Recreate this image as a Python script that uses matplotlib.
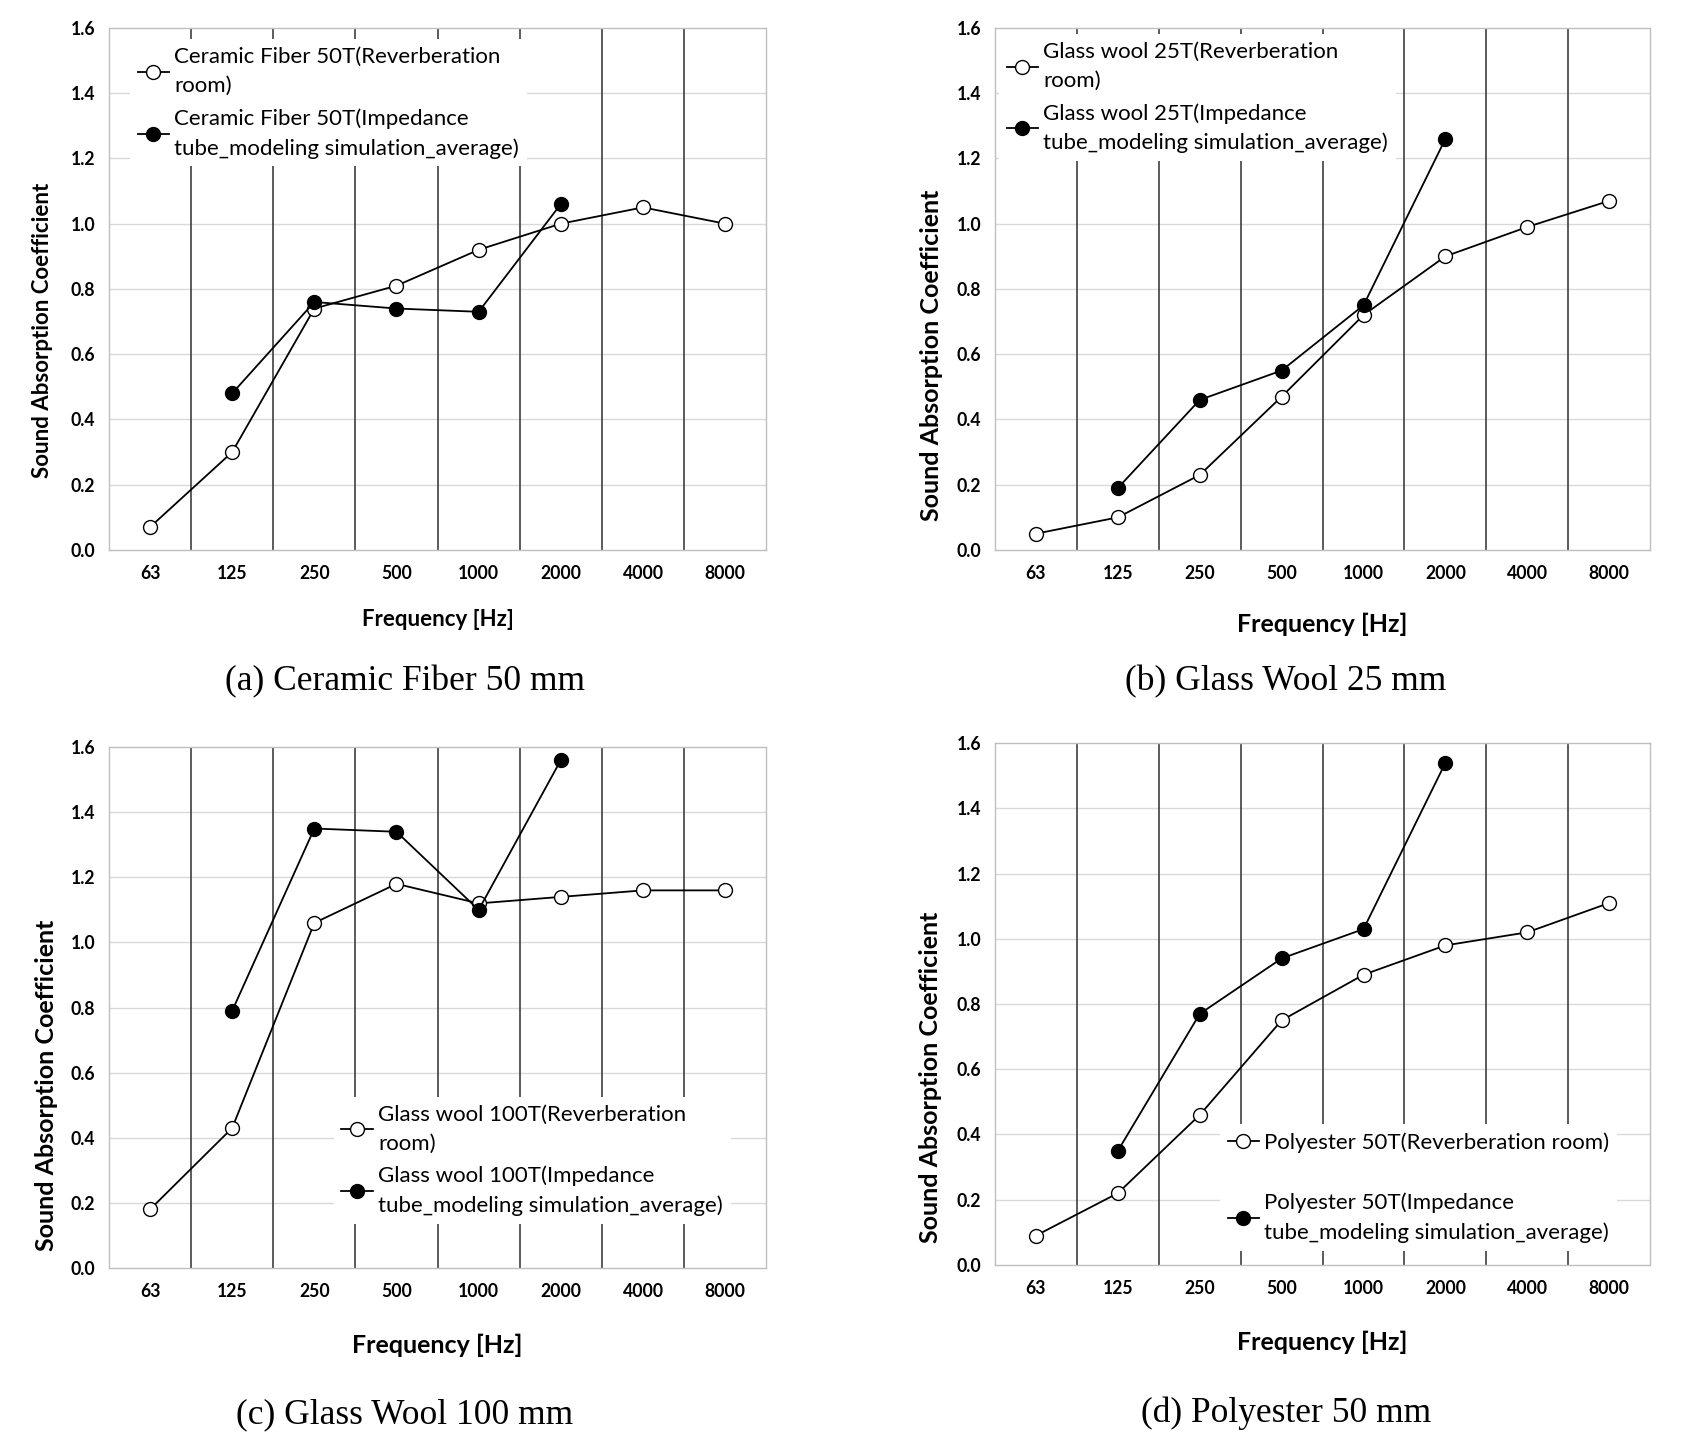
import matplotlib.pyplot as plt

# frequency bands shared by all four panels
FREQS = ["63", "125", "250", "500", "1000", "2000", "4000", "8000"]
TUBE_FREQS = ["125", "250", "500", "1000", "2000"]

# (a) ceramic fiber 50 mm
cf50_room = [0.07, 0.30, 0.74, 0.81, 0.92, 1.00, 1.05, 1.00]
cf50_tube = [0.48, 0.76, 0.74, 0.73, 1.06]
# (b) glass wool 25 mm
gw25_room = [0.05, 0.10, 0.23, 0.47, 0.72, 0.90, 0.99, 1.07]
gw25_tube = [0.19, 0.46, 0.55, 0.75, 1.26]
# (c) glass wool 100 mm
gw100_room = [0.18, 0.43, 1.06, 1.18, 1.12, 1.14, 1.16, 1.16]
gw100_tube = [0.79, 1.35, 1.34, 1.10, 1.56]
# (d) polyester 50 mm
pe50_room = [0.09, 0.22, 0.46, 0.75, 0.89, 0.98, 1.02, 1.11]
pe50_tube = [0.35, 0.77, 0.94, 1.03, 1.54]

SANS = ["Lato", "DejaVu Sans"]


def draw_panel(fig, rect, room, tube, room_label, tube_label, caption, cap_xy,
               leg_loc, leg_anchor, ylab_xy, label_size=18, xlab_pad=22,
               leg_spacing=0.55):
    ax = fig.add_axes(rect)
    x_room = [FREQS.index(f) for f in FREQS]
    x_tube = [FREQS.index(f) for f in TUBE_FREQS]

    ax.set_xlim(-0.5, len(FREQS) - 0.5)
    ax.set_ylim(0, 1.6)
    ax.set_yticks([0.0, 0.2, 0.4, 0.6, 0.8, 1.0, 1.2, 1.4, 1.6])
    ax.set_yticklabels([f"{v:.1f}" for v in ax.get_yticks()])
    ax.set_xticks(x_room)
    ax.set_xticklabels(FREQS)
    ax.tick_params(axis="x", length=0, pad=11, labelsize=12.7)
    ax.tick_params(axis="y", length=0, pad=10, labelsize=12.7)
    for lab in ax.get_xticklabels() + ax.get_yticklabels():
        lab.set_family(SANS)
        lab.set_fontweight("bold")

    # light horizontal gridlines, dark vertical band separators
    for y in ax.get_yticks()[1:-1]:
        ax.axhline(y, color="#d9d9d9", lw=1.0, zorder=0)
    for i in range(len(FREQS) - 1):
        ax.axvline(i + 0.5, color="#404040", lw=1.2, zorder=0.5)
    for s in ax.spines.values():
        s.set_color("#bfbfbf")
        s.set_linewidth(1.0)

    ax.plot(x_room, room, color="black", lw=1.3, marker="o", ms=10,
            mfc="white", mec="black", mew=1.0, label=room_label, zorder=3)
    ax.plot(x_tube, tube, color="black", lw=1.3, marker="o", ms=10,
            mfc="black", mec="black", label=tube_label, zorder=4)

    leg = ax.legend(loc=leg_loc, bbox_to_anchor=leg_anchor,
                    prop={"family": SANS, "size": 16},
                    frameon=True, facecolor="white", edgecolor="none",
                    framealpha=1.0, fancybox=False, handlelength=1.4,
                    handletextpad=0.25, labelspacing=leg_spacing,
                    borderaxespad=0.0, borderpad=0.35)
    for t in leg.get_texts():
        t.set_linespacing(1.55)
    leg.set_zorder(5)

    ax.set_xlabel("Frequency [Hz]", family=SANS, fontweight="bold",
                  fontsize=label_size, labelpad=xlab_pad)
    ax.set_ylabel("Sound Absorption Coefficient", family=SANS,
                  fontweight="bold", fontsize=label_size)
    ax.yaxis.set_label_coords(*ylab_xy)

    fig.text(cap_xy[0], cap_xy[1], caption, family="Liberation Serif",
             fontsize=25.5, ha="center", va="center")
    return ax


fig = plt.figure(figsize=(16.94, 14.39), dpi=100)

draw_panel(fig, [0.0643, 0.6178, 0.388, 0.3628], cf50_room, cf50_tube,
           "Ceramic Fiber 50T(Reverberation\nroom)",
           "Ceramic Fiber 50T(Impedance\ntube_modeling simulation_average)",
           "(a) Ceramic Fiber 50 mm", (0.2391, 0.5265),
           "upper left", (0.032, 0.978), (-0.085, 0.421), label_size=16,
           xlab_pad=19)
draw_panel(fig, [0.5874, 0.6178, 0.3867, 0.3628], gw25_room, gw25_tube,
           "Glass wool 25T(Reverberation\nroom)",
           "Glass wool 25T(Impedance\ntube_modeling simulation_average)",
           "(b) Glass Wool 25 mm", (0.7589, 0.5265),
           "upper left", (0.006, 0.988), (-0.079, 0.372))
draw_panel(fig, [0.0643, 0.1188, 0.388, 0.362], gw100_room, gw100_tube,
           "Glass wool 100T(Reverberation\nroom)",
           "Glass wool 100T(Impedance\ntube_modeling simulation_average)",
           "(c) Glass Wool 100 mm", (0.2391, 0.0165),
           "lower left", (0.342, 0.085), (-0.078, 0.351), xlab_pad=24)
draw_panel(fig, [0.5874, 0.121, 0.3867, 0.3625], pe50_room, pe50_tube,
           "Polyester 50T(Reverberation room)",
           "Polyester 50T(Impedance\ntube_modeling simulation_average)",
           "(d) Polyester 50 mm", (0.7589, 0.018),
           "lower left", (0.343, 0.027), (-0.081, 0.359), xlab_pad=24,
           leg_spacing=1.8)

fig.savefig("out.png", dpi=100, facecolor="white")
